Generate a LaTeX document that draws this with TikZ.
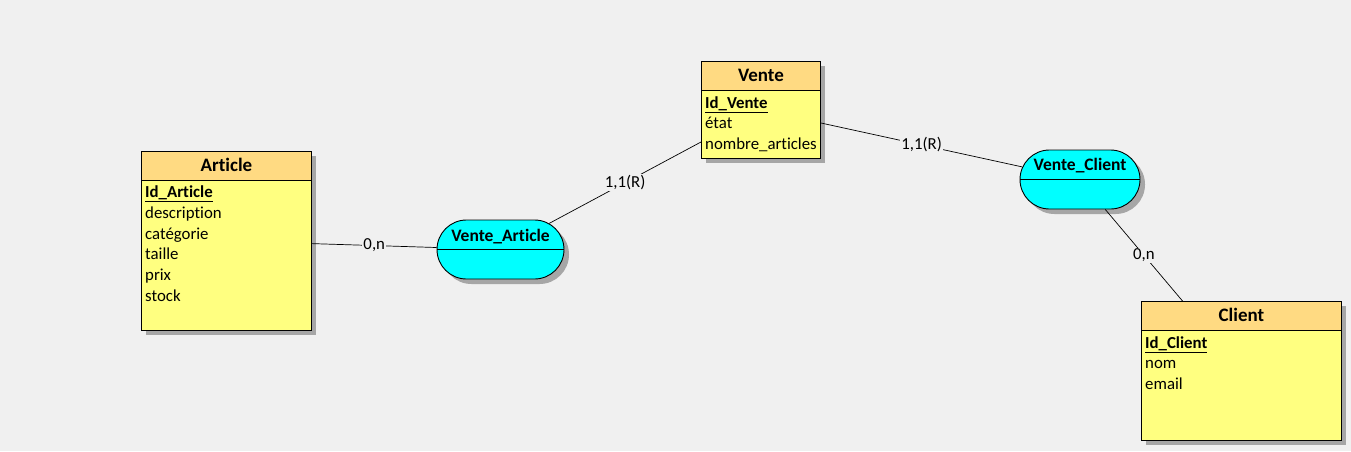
\documentclass[tikz,border=0pt]{standalone}
\usepackage{fontspec}
\setmainfont{Carlito}[Ligatures={NoCommon}]
\usetikzlibrary{shadows,shapes.misc}
\definecolor{fond}{HTML}{F0F0F0}
\definecolor{entete}{HTML}{FFDA82}
\definecolor{corps}{HTML}{FFFF80}
\definecolor{assoc}{HTML}{00FFFF}
\definecolor{ombre}{HTML}{A6A6A6}
\tikzset{
	ombrage/.style={drop shadow={shadow xshift=5pt, shadow yshift=-5pt, fill=ombre, opacity=1}},
	entite/.style={draw=black, line width=0.9pt, fill=corps, ombrage, inner sep=0pt, anchor=north west,
		path picture={
			\fill[entete] (path picture bounding box.north west) rectangle ([yshift=-29pt]path picture bounding box.north east);
			\draw[line width=0.9pt] ([yshift=-29pt]path picture bounding box.north west) -- ([yshift=-29pt]path picture bounding box.north east);
		}},
	titre/.style={anchor=base, inner sep=0pt, font=\fontsize{19}{22}\selectfont\bfseries},
	attribut/.style={anchor=base west, inner sep=0pt, font=\fontsize{16.8}{20}\selectfont},
	association/.style={rounded rectangle, draw=black, line width=0.9pt, fill=assoc, ombrage, minimum height=59pt, inner sep=0pt,
		path picture={
			\draw[line width=0.9pt] (path picture bounding box.west) -- (path picture bounding box.east);
		}},
	nomasso/.style={anchor=base, inner sep=0pt, font=\fontsize{17.5}{20}\selectfont\bfseries},
	lien/.style={draw=black, line width=0.7pt},
	cardinalite/.style={fill=fond, inner sep=1pt, font=\fontsize{16.8}{20}\selectfont},
}
\begin{document}
\begin{tikzpicture}[x=1pt, y=-1pt]
	\fill[fond] (0,0) rectangle (1351,451);
	\useasboundingbox (0,0) rectangle (1351,451);
	% entites
	\node[entite, minimum width=170pt, minimum height=179pt] (article) at (141,151) {};
	\node[entite, minimum width=119pt, minimum height=97pt] (vente) at (701,61) {};
	\node[entite, minimum width=200pt, minimum height=139pt] (client) at (1141,301) {};
	\node[titre] (article-titre) at ([yshift=-20.5pt]article.north) {Article};
	\node[titre] (vente-titre) at ([yshift=-20pt]vente.north) {Vente};
	\node[titre] (client-titre) at ([yshift=-20pt]client.north) {Client};
	\foreach \txt [count=\i from 0] in {\underline{\textbf{Id\_Article}}, description, catégorie, taille, prix, stock}
		\node[attribut] (article-\i) at ([xshift=4pt, yshift={-46.5pt-20.8pt*\i}]article.north west) {\txt};
	\foreach \txt [count=\i from 0] in {\underline{\textbf{Id\_Vente}}, état, nombre\_articles}
		\node[attribut] (vente-\i) at ([xshift=4pt, yshift={-47pt-20.6pt*\i}]vente.north west) {\txt};
	\foreach \txt [count=\i from 0] in {\underline{\textbf{Id\_Client}}, nom, email}
		\node[attribut] (client-\i) at ([xshift=4pt, yshift={-47pt-20.6pt*\i}]client.north west) {\txt};
	% associations
	\node[association, minimum width=127pt] (va) at (500.5,249.5) {};
	\node[association, minimum width=120pt] (vc) at (1080,179.5) {};
	\node[nomasso] (va-nom) at ([yshift=-21.5pt]va.north) {Vente\_Article};
	\node[nomasso] (vc-nom) at ([yshift=-20.5pt]vc.north) {Vente\_Client};
	% liens
	\draw[lien] (article) -- (va) node[cardinalite, midway] (card-1) {0,n};
	\draw[lien] (va) -- (vente) node[cardinalite, midway] (card-2) {1,1(R)};
	\draw[lien] (vente) -- (vc) node[cardinalite, midway] (card-3) {1,1(R)};
	\draw[lien] (vc) -- (client) node[cardinalite, midway] (card-4) {0,n};
\end{tikzpicture}
\end{document}
